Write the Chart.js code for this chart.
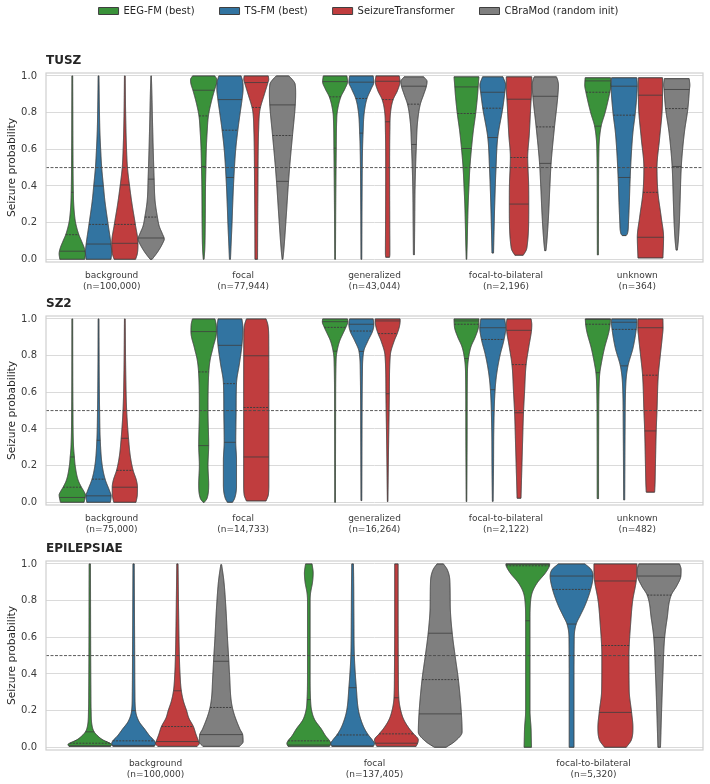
<!DOCTYPE html>
<html>
<head>
<meta charset="utf-8">
<script src="https://cdn.jsdelivr.net/npm/chart.js@4.4.1/dist/chart.umd.min.js"></script>
<style>
  html, body { margin: 0; padding: 0; background: #fff; }
  body { width: 710px; height: 784px; position: relative; overflow: hidden; }
  canvas { position: absolute; left: 0; }
</style>
</head>
<body>
<canvas id="chartTusz" width="710" height="321" style="top:-19px"></canvas>
<canvas id="chartSz2" width="710" height="252" style="top:293px"></canvas>
<canvas id="chartEpi" width="710" height="252" style="top:538px"></canvas>
<script>
// ---- Data ----
const MODELS = ['EEG-FM (best)', 'TS-FM (best)', 'SeizureTransformer', 'CBraMod (random init)'];
const THRESHOLD = 0.5;
const Y_TICKS = [0, 0.2, 0.4, 0.6, 0.8, 1.0];

const TUSZ_CATEGORIES = [['background', '(n=100,000)'], ['focal', '(n=77,944)'], ['generalized', '(n=43,044)'],
                         ['focal-to-bilateral', '(n=2,196)'], ['unknown', '(n=364)']];
const SZ2_CATEGORIES  = [['background', '(n=75,000)'], ['focal', '(n=14,733)'], ['generalized', '(n=16,264)'],
                         ['focal-to-bilateral', '(n=2,122)'], ['unknown', '(n=482)']];
const EPI_CATEGORIES  = [['background', '(n=100,000)'], ['focal', '(n=137,405)'], ['focal-to-bilateral', '(n=5,320)']];

// violin outlines: [probability, relative width] from bottom to top
// quartiles: [Q1, median, Q3]
const TUSZ_EEGFM_SHAPES = [
  [[0,.95],[.03,1],[.06,.92],[.1,.7],[.134,.5],[.2,.25],[.25,.16],[.3,.11],[.365,.08],[.6,.05],[.8,.04],[1,.03]],
  [[0,.03],[.05,.08],[.2,.12],[.4,.14],[.506,.17],[.6,.2],[.7,.27],[.782,.36],[.85,.55],[.922,.82],[.96,.98],[.98,1],[1,.85]],
  [[0,.03],[.3,.05],[.606,.09],[.75,.12],[.8,.16],[.886,.44],[.93,.75],[.969,.95],[1,.9]],
  [[0,.02],[.1,.06],[.2,.09],[.3,.13],[.4,.19],[.5,.26],[.604,.38],[.7,.52],[.795,.7],[.9,.85],[.94,.89],[.995,.95]],
  [[.024,.04],[.3,.05],[.6,.08],[.726,.25],[.8,.55],[.911,.91],[.95,1],[.99,.97]]
];
const TUSZ_EEGFM_QUART = [[.044,.134,.365], [.506,.782,.922], [.606,.886,.969], [.604,.795,.94], [.726,.911,.973]];

const TUSZ_TSFM_SHAPES = [
  [[0,.95],[.04,1],[.08,.95],[.19,.73],[.32,.48],[.4,.37],[.5,.24],[.6,.16],[.7,.1],[.8,.07],[1,.03]],
  [[0,.04],[.1,.1],[.2,.16],[.3,.21],[.446,.3],[.6,.44],[.704,.6],[.8,.78],[.871,.92],[.93,1],[.97,.97],[1,.85]],
  [[0,.03],[.3,.05],[.6,.09],[.688,.13],[.8,.22],[.877,.43],[.93,.75],[.966,.95],[1,.9]],
  [[.034,.06],[.1,.08],[.3,.15],[.5,.25],[.664,.38],[.824,.76],[.911,.92],[.95,.98],[.995,.78]],
  [[.129,.15],[.14,.25],[.2,.33],[.3,.39],[.446,.46],[.6,.57],[.7,.68],[.786,.83],[.9,.97],[.95,1],[.99,.96]]
];
const TUSZ_TSFM_QUART = [[.083,.19,.40], [.446,.704,.871], [.688,.877,.966], [.664,.824,.911], [.446,.786,.944]];

const TUSZ_ST_SHAPES = [
  [[0,.82],[.03,.95],[.087,1],[.19,.8],[.3,.55],[.405,.35],[.5,.2],[.6,.13],[.8,.06],[1,.03]],
  [[0,.1],[.2,.11],[.4,.13],[.6,.15],[.7,.18],[.8,.25],[.828,.32],[.9,.62],[.964,.89],[.98,.95],[1,.92]],
  [[.011,.15],[.03,.17],[.2,.16],[.5,.15],[.7,.17],[.8,.22],[.871,.42],[.92,.75],[.971,.94],[1,.89]],
  [[.022,.32],[.05,.55],[.08,.63],[.19,.73],[.3,.74],[.41,.73],[.5,.68],[.555,.66],[.68,.78],[.86,.91],[.93,.97],[.995,.97]],
  [[.007,.95],[.12,1],[.23,.82],[.365,.57],[.5,.5],[.66,.7],[.81,.89],[.9,.92],[.99,.92]]
];
const TUSZ_ST_QUART = [[.087,.19,.405], [.50,.828,.964], [.75,.871,.971], [.301,.555,.873], [.12,.365,.895]];

const TUSZ_CB_SHAPES = [
  [[0,.08],[.04,.5],[.09,.9],[.11,1],[.14,.85],[.18,.62],[.23,.48],[.32,.3],[.44,.23],[.6,.16],[.77,.1],[.9,.06],[1,.02]],
  [[0,.03],[.05,.1],[.23,.28],[.425,.46],[.55,.6],[.675,.76],[.84,.97],[.9,1],[.955,.96],[.98,.75],[1,.48]],
  [[.025,.04],[.2,.06],[.4,.09],[.626,.19],[.75,.28],[.846,.49],[.9,.75],[.944,.95],[.97,1],[.995,.75]],
  [[.047,.05],[.1,.12],[.23,.24],[.4,.35],[.523,.44],[.722,.7],[.889,.95],[.95,1],[.98,.93],[.995,.85]],
  [[.05,.05],[.1,.12],[.2,.2],[.3,.25],[.506,.35],[.6,.45],[.7,.6],[.822,.85],[.926,.97],[.95,1],[.985,.95]]
];
const TUSZ_CB_QUART = [[.116,.23,.437], [.425,.675,.842], [.626,.846,.944], [.523,.722,.889], [.506,.822,.926]];

const SZ2_EEGFM_SHAPES = [
  [[0,.9],[.026,.98],[.04,1],[.06,.88],[.082,.7],[.12,.45],[.2,.22],[.247,.16],[.3,.1],[.5,.05],[1,.03]],
  [[0,.05],[.02,.25],[.1,.38],[.2,.33],[.31,.38],[.5,.33],[.71,.39],[.78,.5],[.84,.7],[.93,.97],[.97,.95],[1,.86]],
  [[0,.03],[.5,.04],[.78,.08],[.824,.15],[.88,.35],[.92,.6],[.954,.82],[.985,.97],[1,.95]],
  [[.004,.02],[.4,.05],[.7,.07],[.784,.15],[.85,.35],[.9,.66],[.95,.9],[.971,.93],[1,.95]],
  [[.02,.05],[.4,.06],[.65,.1],[.707,.15],[.74,.22],[.84,.5],[.93,.84],[.97,.93],[1,.96]]
];
const SZ2_EEGFM_QUART = [[.026,.082,.247], [.309,.711,.931], [.824,.954,.985], [.784,.971,.989], [.707,.971,.998]];

const SZ2_TSFM_SHAPES = [
  [[0,.9],[.035,.96],[.06,.85],[.126,.5],[.2,.28],[.338,.13],[.5,.08],[.7,.05],[1,.03]],
  [[0,.2],[.02,.35],[.09,.5],[.23,.5],[.33,.44],[.5,.47],[.65,.5],[.76,.73],[.856,.91],[.95,.99],[1,.91]],
  [[.009,.03],[.4,.05],[.7,.08],[.823,.18],[.88,.5],[.934,.86],[.971,.95],[1,.9]],
  [[.005,.03],[.2,.06],[.4,.08],[.614,.18],[.7,.3],[.8,.55],[.888,.86],[.952,.99],[1,.91]],
  [[.013,.04],[.4,.07],[.65,.13],[.744,.29],[.84,.67],[.943,.92],[.982,.97],[1,.95]]
];
const SZ2_TSFM_QUART = [[.035,.126,.338], [.327,.647,.856], [.823,.934,.971], [.614,.888,.952], [.744,.943,.982]];

const SZ2_ST_SHAPES = [
  [[0,.85],[.04,.95],[.082,.96],[.12,.88],[.174,.63],[.25,.42],[.349,.28],[.5,.14],[.7,.07],[1,.03]],
  [[.007,.75],[.04,.92],[.1,.96],[.5,.96],[.9,.95],[.97,.88],[1,.75]],
  [[.004,.02],[.3,.07],[.592,.13],[.8,.2],[.88,.5],[.92,.73],[.96,.9],[.989,.95],[1,.95]],
  [[.022,.15],[.1,.18],[.2,.22],[.3,.26],[.488,.34],[.6,.42],[.751,.54],[.85,.75],[.938,.95],[.97,.97],[1,.92]],
  [[.055,.32],[.1,.35],[.2,.38],[.389,.44],[.5,.5],[.693,.6],[.8,.75],[.9,.9],[.952,.96],[1,.95]]
];
const SZ2_ST_QUART = [[.082,.174,.349], [.247,.517,.799], [.592,.92,.989], [.488,.751,.938], [.389,.693,.952]];

// CBraMod was not evaluated on SZ2
const SZ2_CB_SHAPES = [null, null, null, null, null];
const SZ2_CB_QUART  = [null, null, null, null, null];

const EPI_EEGFM_SHAPES = [
  [[.005,.95],[.015,1],[.022,.92],[.04,.6],[.06,.38],[.084,.2],[.12,.1],[.2,.06],[.3,.05],[1,.03]],
  [[.005,.95],[.02,1],[.035,.95],[.06,.78],[.1,.57],[.15,.27],[.2,.13],[.26,.08],[.4,.06],[.8,.06],[.84,.08],[.9,.17],[.95,.2],[1,.15]],
  [[0,.17],[.05,.16],[.1,.15],[.2,.1],[.5,.1],[.69,.1],[.8,.13],[.85,.22],[.9,.45],[.95,.8],[.99,.99],[1,1]]
];
const EPI_EEGFM_QUART = [[.008,.022,.084], [.012,.035,.26], [.69,.99,.999]];

const EPI_TSFM_SHAPES = [
  [[.005,.95],[.02,1],[.035,.95],[.06,.75],[.1,.5],[.14,.25],[.2,.09],[.3,.06],[.5,.05],[1,.03]],
  [[.005,.95],[.02,1],[.04,.9],[.067,.72],[.1,.55],[.15,.38],[.2,.27],[.325,.17],[.5,.08],[.7,.06],[.9,.05],[1,.04]],
  [[0,.11],[.3,.11],[.6,.12],[.672,.21],[.72,.4],[.77,.6],[.861,.87],[.934,.98],[.97,.89],[1,.61]]
];
const EPI_TSFM_QUART = [[.01,.035,.2], [.007,.067,.325], [.672,.861,.934]];

const EPI_ST_SHAPES = [
  [[.005,.9],[.02,1],[.031,.97],[.07,.85],[.113,.73],[.16,.52],[.2,.42],[.25,.28],[.308,.18],[.4,.12],[.5,.09],[.7,.06],[1,.03]],
  [[.005,.9],[.022,.97],[.04,1],[.073,.79],[.1,.6],[.15,.34],[.2,.2],[.27,.11],[.4,.09],[.7,.08],[1,.08]],
  [[0,.5],[.04,.73],[.11,.8],[.19,.74],[.31,.63],[.5,.62],[.68,.7],[.8,.79],[.907,.95],[.97,.98],[1,.98]]
];
const EPI_ST_QUART = [[.031,.113,.308], [.022,.073,.27], [.19,.555,.907]];

const EPI_CB_SHAPES = [
  [[.005,.84],[.03,1],[.069,.98],[.1,.85],[.217,.51],[.4,.38],[.469,.35],[.59,.29],[.77,.21],[.91,.12],[.996,.02]],
  [[0,.27],[.03,.65],[.084,1],[.18,.97],[.369,.83],[.5,.68],[.622,.55],[.77,.46],[.91,.44],[.97,.32],[1,.15]],
  [[0,.06],[.2,.11],[.4,.17],[.599,.25],[.7,.36],[.83,.55],[.88,.8],[.934,.99],[.97,1],[1,.93]]
];
const EPI_CB_QUART = [[.069,.217,.469], [.182,.369,.622], [.599,.83,.934]];

// ---- Style ----
const COLORS = ['#3a923a', '#3274a1', '#c03d3e', '#7f7f7f'];
const EDGE   = '#3f3f3f';
const TEXT   = '#262626';
const TICK   = '#3a3a3a';
const GRID   = '#dadada';
const FRAME  = '#cfcfcf';
const PLOT_LEFT  = 46;
const PLOT_RIGHT = 703;
const X_AXIS_H   = 40;
const LEGEND_SHIFT = 14;     // pushes the centred legend slightly right, as in the figure
const Y_MIN = -0.015, Y_MAX = 1.016;

Chart.defaults.font.family = "'DejaVu Sans', sans-serif";
Chart.defaults.color = TEXT;

// ---- Helpers ----
// monotone cubic through the outline knots (no overshoot)
function _monotone(pts) {
  const n = pts.length;
  const xs = pts.map(p => p[0]), ys = pts.map(p => p[1]);
  if (n === 1) return () => ys[0];
  const d = [], m = new Array(n);
  for (let k = 0; k < n - 1; k++) d[k] = (ys[k + 1] - ys[k]) / (xs[k + 1] - xs[k]);
  m[0] = d[0]; m[n - 1] = d[n - 2];
  for (let k = 1; k < n - 1; k++) m[k] = d[k - 1] * d[k] <= 0 ? 0 : (d[k - 1] + d[k]) / 2;
  for (let k = 0; k < n - 1; k++) {
    if (d[k] === 0) { m[k] = 0; m[k + 1] = 0; continue; }
    const a = m[k] / d[k], b = m[k + 1] / d[k], s = a * a + b * b;
    if (s > 9) { const t = 3 / Math.sqrt(s); m[k] = t * a * d[k]; m[k + 1] = t * b * d[k]; }
  }
  return x => {
    if (x <= xs[0]) return ys[0];
    if (x >= xs[n - 1]) return ys[n - 1];
    let k = 0;
    while (k < n - 2 && x > xs[k + 1]) k++;
    const h = xs[k + 1] - xs[k], t = (x - xs[k]) / h;
    const t2 = t * t, t3 = t2 * t;
    return (2 * t3 - 3 * t2 + 1) * ys[k] + (t3 - 2 * t2 + t) * h * m[k]
         + (-2 * t3 + 3 * t2) * ys[k + 1] + (t3 - t2) * h * m[k + 1];
  };
}

function _drawViolin(ctx, y, cx, half, shape, quart, color) {
  const f = _monotone(shape);
  const lo = shape[0][0], hi = shape[shape.length - 1][0];
  const pLo = y.getPixelForValue(lo), pHi = y.getPixelForValue(hi);
  const pts = [];
  for (let p = pLo; p > pHi; p -= 0.5) pts.push([p, f(y.getValueForPixel(p)) * half]);
  pts.push([pHi, f(hi) * half]);

  ctx.save();
  ctx.beginPath();
  pts.forEach(([p, w], i) => i ? ctx.lineTo(cx - w, p) : ctx.moveTo(cx - w, p));
  for (let i = pts.length - 1; i >= 0; i--) ctx.lineTo(cx + pts[i][1], pts[i][0]);
  ctx.closePath();
  ctx.fillStyle = color;
  ctx.fill();
  ctx.lineJoin = 'round';
  ctx.lineWidth = 1;
  ctx.strokeStyle = EDGE;
  ctx.stroke();

  // quartile lines (median dashed)
  quart.forEach((v, k) => {
    const vv = Math.min(Math.max(v, lo), hi);
    const w = f(vv) * half;
    const py = y.getPixelForValue(vv);
    ctx.beginPath();
    ctx.setLineDash(k === 1 ? [2, 1.2] : []);
    ctx.lineWidth = k === 1 ? 1 : 0.8;
    ctx.strokeStyle = EDGE;
    ctx.moveTo(cx - w, py);
    ctx.lineTo(cx + w, py);
    ctx.stroke();
  });
  ctx.restore();
}

const violinPlugin = {
  id: 'violins',
  beforeDatasetDraw() { return false; },   // bars only carry positions
  afterDatasetsDraw(chart) {
    const { ctx, chartArea, scales: { y } } = chart;
    chart.data.datasets.forEach((ds, i) => {
      const meta = chart.getDatasetMeta(i);
      meta.data.forEach((bar, j) => {
        const shape = ds.shapes[j];
        if (!shape) return;
        _drawViolin(ctx, y, bar.x, bar.width / 2, shape, ds.quartiles[j], ds.backgroundColor);
      });
    });
    // decision threshold
    const py = y.getPixelForValue(THRESHOLD);
    ctx.save();
    ctx.beginPath();
    ctx.setLineDash([3, 1.5]);
    ctx.lineWidth = 0.9;
    ctx.strokeStyle = '#4a4a4a';
    ctx.moveTo(chartArea.left, py);
    ctx.lineTo(chartArea.right, py);
    ctx.stroke();
    ctx.restore();
  },
  afterDraw(chart) {
    const { ctx, chartArea: a } = chart;
    ctx.save();
    ctx.strokeStyle = FRAME;
    ctx.lineWidth = 1.2;
    ctx.strokeRect(a.left, a.top, a.right - a.left, a.bottom - a.top);
    ctx.restore();
  }
};

function makePanel(canvasId, title, categories, shapes, quarts, showLegend) {
  const canvas = document.getElementById(canvasId);
  const padLeft = showLegend ? LEGEND_SHIFT : 0;
  return new Chart(canvas, {
    type: 'bar',
    data: {
      labels: categories,
      datasets: MODELS.map((name, m) => ({
        label: name,
        data: shapes[m].map(s => s ? [s[0][0], s[s.length - 1][0]] : null),
        shapes: shapes[m],
        quartiles: quarts[m],
        backgroundColor: COLORS[m],
        borderColor: EDGE,
        borderWidth: 1,
        categoryPercentage: 0.8,
        barPercentage: 1.0,
      }))
    },
    options: {
      responsive: false,
      animation: false,
      events: [],
      layout: { padding: { left: padLeft, right: canvas.width - PLOT_RIGHT, top: 0, bottom: 0 } },
      plugins: {
        legend: showLegend ? {
          display: true,
          position: 'top',
          align: 'center',
          weight: 3000,
          labels: { boxWidth: 20, boxHeight: 7, padding: 25, color: TEXT, font: { size: 10 } }
        } : { display: false },
        title: {
          display: true,
          text: title,
          align: 'start',
          fullSize: false,
          color: TEXT,
          font: { size: 12, weight: 'bold' },
          padding: { top: showLegend ? 28 : 4, bottom: 4.6 }
        },
        tooltip: { enabled: false }
      },
      scales: {
        x: {
          afterFit: s => { s.height = X_AXIS_H; },
          grid: { display: false, drawTicks: false },
          border: { display: false },
          ticks: { color: TICK, font: { size: 9 }, padding: 8, maxRotation: 0, autoSkip: false }
        },
        y: {
          min: Y_MIN,
          max: Y_MAX,
          afterFit: s => { s.width = PLOT_LEFT - padLeft; },
          afterBuildTicks: s => { s.ticks = Y_TICKS.map(v => ({ value: v })); },
          grid: { color: GRID, lineWidth: 1, drawTicks: false },
          border: { display: false },
          ticks: { color: TICK, font: { size: 10 }, padding: 9, callback: v => Number(v).toFixed(1) },
          title: {
            display: true,
            text: 'Seizure probability',
            color: TEXT,
            font: { size: 10.6 },
            padding: { top: 5.5 - padLeft, bottom: 0 }
          }
        }
      }
    },
    plugins: [violinPlugin]
  });
}

makePanel('chartTusz', 'TUSZ', TUSZ_CATEGORIES,
  [TUSZ_EEGFM_SHAPES, TUSZ_TSFM_SHAPES, TUSZ_ST_SHAPES, TUSZ_CB_SHAPES],
  [TUSZ_EEGFM_QUART, TUSZ_TSFM_QUART, TUSZ_ST_QUART, TUSZ_CB_QUART], true);
makePanel('chartSz2', 'SZ2', SZ2_CATEGORIES,
  [SZ2_EEGFM_SHAPES, SZ2_TSFM_SHAPES, SZ2_ST_SHAPES, SZ2_CB_SHAPES],
  [SZ2_EEGFM_QUART, SZ2_TSFM_QUART, SZ2_ST_QUART, SZ2_CB_QUART], false);
makePanel('chartEpi', 'EPILEPSIAE', EPI_CATEGORIES,
  [EPI_EEGFM_SHAPES, EPI_TSFM_SHAPES, EPI_ST_SHAPES, EPI_CB_SHAPES],
  [EPI_EEGFM_QUART, EPI_TSFM_QUART, EPI_ST_QUART, EPI_CB_QUART], false);
</script>
</body>
</html>
